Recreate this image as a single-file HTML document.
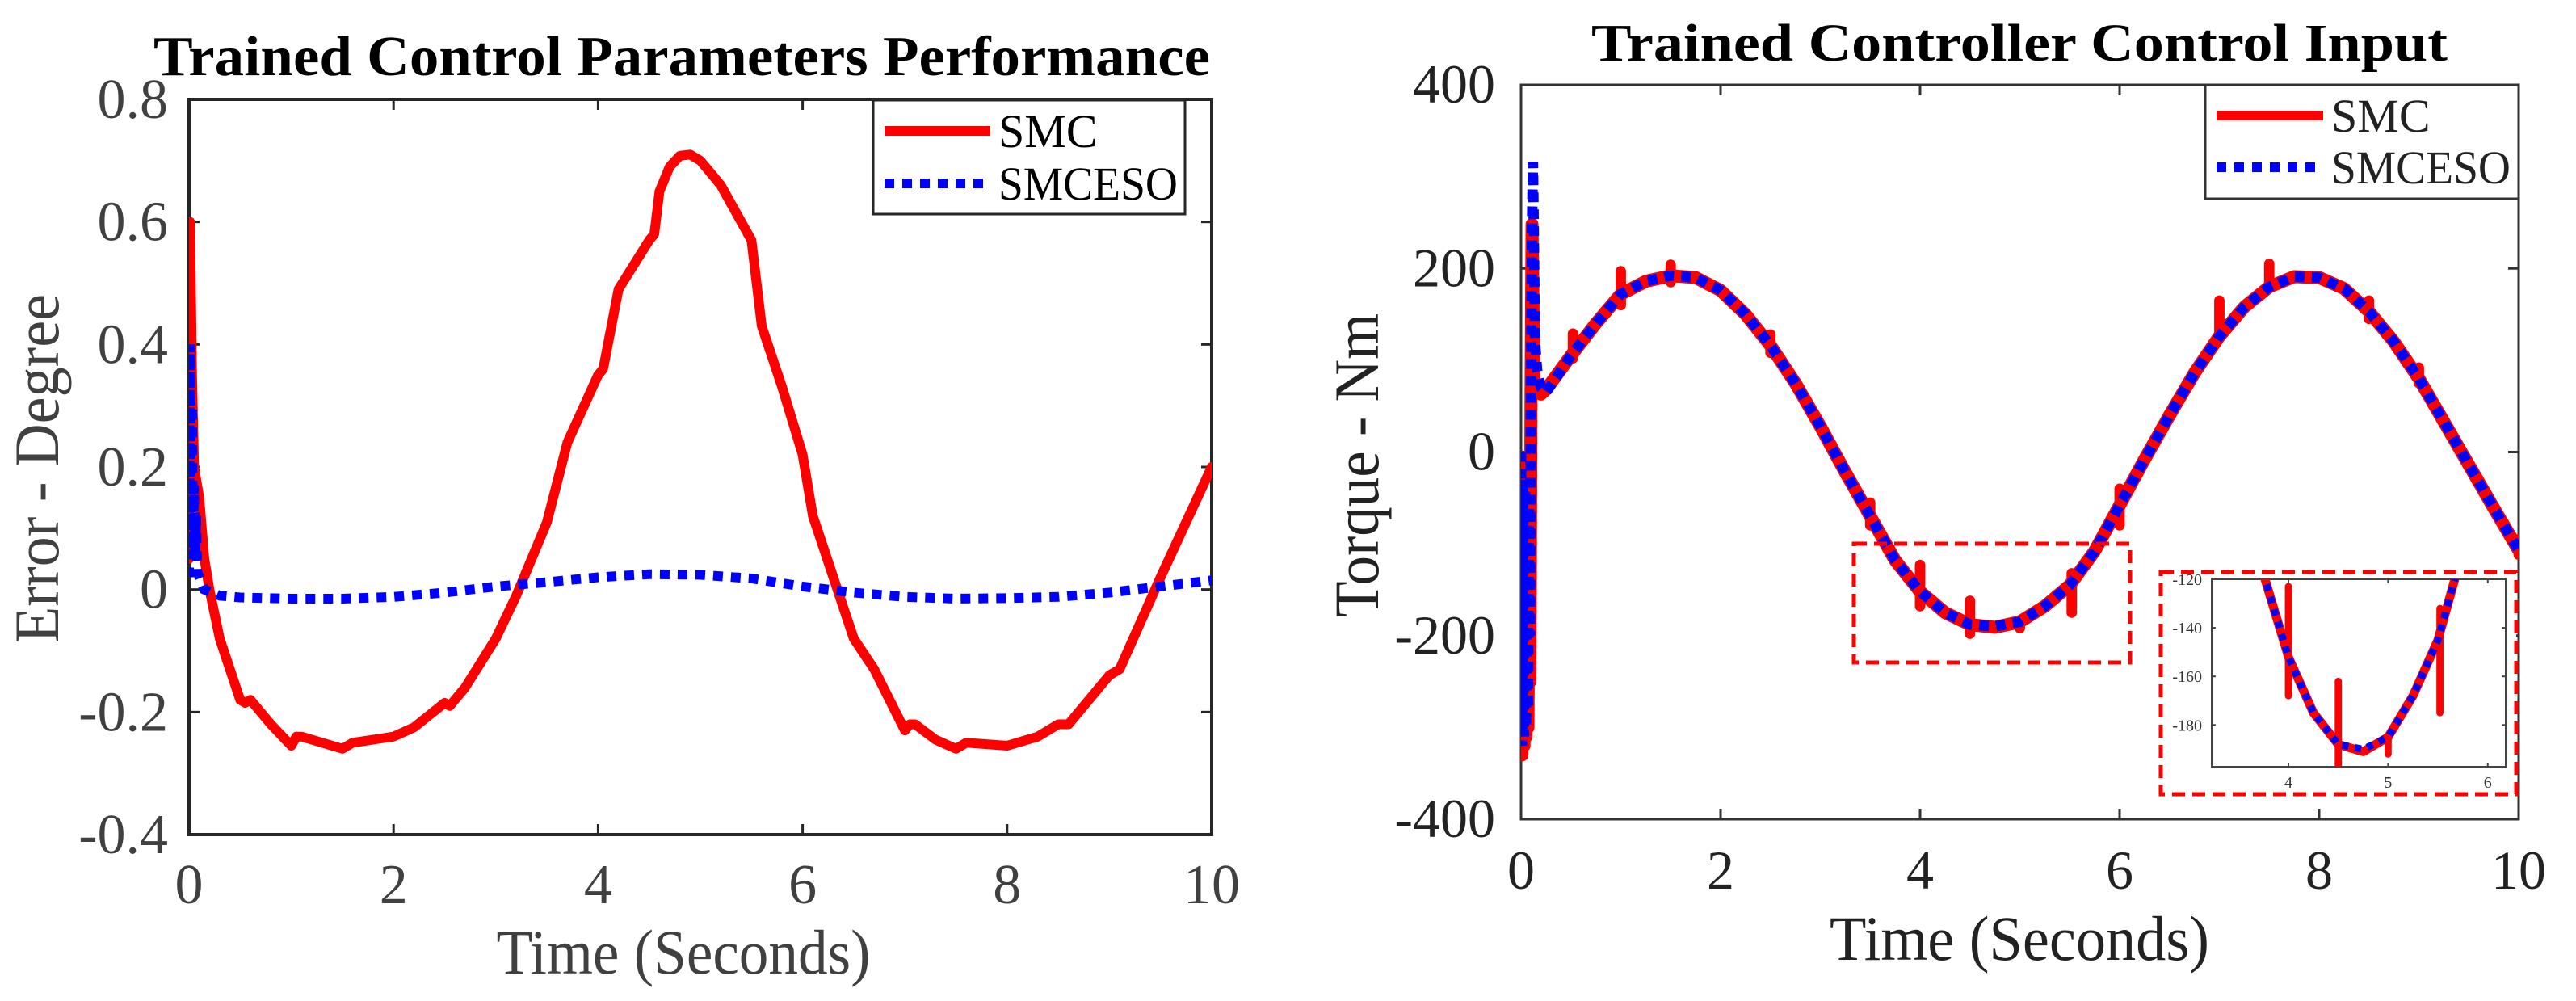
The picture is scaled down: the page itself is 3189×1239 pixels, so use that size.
<!DOCTYPE html>
<html><head><meta charset="utf-8"><style>
html,body{margin:0;padding:0;background:#fff;overflow:hidden;width:3189px;height:1239px;}
svg{display:block;}
text{font-family:"Liberation Serif",serif;}
</style></head><body>
<svg id="fig" width="3189" height="1239" viewBox="0 0 3189 1239" xmlns="http://www.w3.org/2000/svg">
<defs>
<clipPath id="clipL"><rect x="234" y="123" width="1266" height="910"/></clipPath>
<clipPath id="clipR"><rect x="1883" y="105" width="1235" height="909"/></clipPath>
<clipPath id="clipI"><rect x="2738" y="717" width="364" height="232"/></clipPath>
</defs>
<g id="left"></g>
<g id="right"></g>
</svg>
<script>
// ---- Left chart data ----
const smcT = [0,0.01,0.03,0.05,0.1,0.15,0.2,0.3,0.4,0.5,0.55,0.6,0.8,1.0,1.05,1.1,1.3,1.5,1.6,1.8,2.0,2.2,2.5,2.55,2.7,3.0,3.2,3.5,3.7,4.0,4.05,4.2,4.5,4.55,4.6,4.7,4.8,4.9,5.0,5.2,5.5,5.6,5.8,6.0,6.1,6.3,6.5,6.7,7.0,7.05,7.1,7.3,7.5,7.6,8.0,8.3,8.5,8.6,9.0,9.1,9.5,10];
const smcErr = [0.05,0.6,0.35,0.2,0.15,0.05,0,-0.08,-0.13,-0.18,-0.185,-0.18,-0.22,-0.255,-0.24,-0.24,-0.25,-0.26,-0.25,-0.245,-0.24,-0.225,-0.185,-0.19,-0.16,-0.08,-0.01,0.11,0.24,0.35,0.36,0.49,0.57,0.58,0.65,0.69,0.708,0.71,0.70,0.66,0.57,0.43,0.33,0.22,0.12,0.02,-0.08,-0.13,-0.23,-0.22,-0.22,-0.245,-0.26,-0.25,-0.255,-0.24,-0.22,-0.22,-0.14,-0.13,0.02,0.2];
const esoT = [0,0.01,0.02,0.03,0.04,0.05,0.06,0.07,0.08,0.1,0.15,0.3,0.5,1,1.5,2,2.5,3,3.5,4,4.5,5,5.5,6,6.5,7,7.5,8,8.5,9,9.5,10];
const esoErr = [0.02,0.4,0.05,0.3,0.08,0.17,0.05,0.12,0.03,0.02,0,-0.01,-0.013,-0.015,-0.015,-0.012,-0.005,0.005,0.012,0.02,0.025,0.024,0.018,0.005,-0.005,-0.012,-0.015,-0.014,-0.012,-0.005,0.005,0.015];
const leftXTicks = [0,2,4,6,8,10];
const leftYTicks = [0.8,0.6,0.4,0.2,0,-0.2,-0.4];
const leftYLabels = ["0.8","0.6","0.4","0.2","0","-0.2","-0.4"];

// ---- Right chart data ----
const torqueT = [0,0.01,0.02,0.03,0.04,0.05,0.06,0.07,0.08,0.09,0.1,0.11,0.13,0.2,0.25,0.5,0.75,1.0,1.25,1.5,1.75,2.0,2.25,2.5,2.75,3.0,3.25,3.5,3.75,4.0,4.25,4.5,4.75,5.0,5.25,5.5,5.75,6.0,6.25,6.5,6.75,7.0,7.25,7.5,7.75,8.0,8.25,8.5,8.75,9.0,9.25,9.5,9.75,10];
const smcTorque = [0,-330,-20,-320,-30,-310,-40,-300,-60,-250,60,248,70,63,68,105,140,172,186,192,190,176,150,116,75,28,-22,-70,-118,-152,-175,-188,-191,-185,-168,-145,-108,-58,-8,40,86,126,158,180,191,190,178,153,120,80,33,-14,-61,-107];
const esoT2 = [0,0.01,0.02,0.03,0.04,0.05,0.06,0.07,0.08,0.09,0.1,0.11,0.12,0.14,0.16,0.2,0.25,0.5,0.75,1.0,1.25,1.5,1.75,2.0,2.25,2.5,2.75,3.0,3.25,3.5,3.75,4.0,4.25,4.5,4.75,5.0,5.25,5.5,5.75,6.0,6.25,6.5,6.75,7.0,7.25,7.5,7.75,8.0,8.25,8.5,8.75,9.0,9.25,9.5,9.75,10];
const esoTorque = [0,-320,-30,-310,-40,-300,-50,-280,-60,-200,80,250,316,120,90,70,65,105,140,172,186,192,190,176,150,116,75,28,-22,-70,-118,-152,-175,-188,-190,-185,-168,-145,-108,-58,-8,40,86,126,158,180,191,190,178,153,120,80,33,-14,-61,-107];
const spikeT = [0.52,1.0,1.5,2.5,3.5,4.0,4.5,5.0,5.52,6.0,7.0,7.5,8.5,9.0,10.0];
const spikeHi = [129,197,204,128,-55,-123,-162,-186,-132,-40,165,205,165,92,-95];
const spikeLo = [102,160,185,108,-80,-168,-198,-192,-175,-80,125,180,145,75,-112];
const rightXTicks = [0,2,4,6,8,10];
const rightYTicks = [400,200,0,-200,-400];
const insetXTicks = [4,5,6];
const insetYTicks = [-120,-140,-160,-180];

const NS = "http://www.w3.org/2000/svg";
function mk(parent, tag, attrs){const e=document.createElementNS(NS,tag);for(const k in attrs)e.setAttribute(k,attrs[k]);parent.appendChild(e);return e;}
function pathOf(ts, vs, sx, sy){return ts.map((t,i)=>(i?"L":"M")+sx(t).toFixed(1)+","+sy(vs[i]).toFixed(1)).join(" ");}

// ===== LEFT =====
const L = document.getElementById("left");
const lx0=234,lx1=1500,ly0=123,ly1=1033;
const lsx = t => lx0 + (t-0)/(10-0)*(lx1-lx0);
const lsy = v => ly1 - (v-(-0.4))/(0.8-(-0.4))*(ly1-ly0);

let t = mk(L,"text",{x:844,y:93,"text-anchor":"middle","font-size":70,"font-weight":"bold",fill:"#000",textLength:1308,lengthAdjust:"spacingAndGlyphs"});
t.textContent="Trained Control Parameters Performance";



let fr = mk(L,"rect",{x:lx0,y:ly0,width:lx1-lx0,height:ly1-ly0,fill:"#fff",stroke:"#262626","stroke-width":4});



leftXTicks.forEach(v=>{
  const x=lsx(v);
  mk(L,"line",{x1:x,y1:ly1,x2:x,y2:ly1-13,stroke:"#262626","stroke-width":3});
  mk(L,"line",{x1:x,y1:ly0,x2:x,y2:ly0+13,stroke:"#262626","stroke-width":3});
  const e=mk(L,"text",{x:x,y:1118,"text-anchor":"middle","font-size":70,fill:"#404040"});
  e.textContent=String(v);
  
  
});
leftYTicks.forEach((v,i)=>{
  const y=lsy(v);
  mk(L,"line",{x1:lx0,y1:y,x2:lx0+13,y2:y,stroke:"#262626","stroke-width":3});
  mk(L,"line",{x1:lx1,y1:y,x2:lx1-13,y2:y,stroke:"#262626","stroke-width":3});
  const e=mk(L,"text",{x:208,y:y+23,"text-anchor":"end","font-size":70,fill:"#404040"});
  e.textContent=leftYLabels[i];
  
  
});
t = mk(L,"text",{x:846,y:1205,"text-anchor":"middle","font-size":78,fill:"#404040",textLength:463,lengthAdjust:"spacingAndGlyphs"});
t.textContent="Time (Seconds)";


t = mk(L,"text",{x:0,y:0,"text-anchor":"middle","font-size":78,fill:"#404040",transform:"translate(72,580) rotate(-90)",textLength:432,lengthAdjust:"spacingAndGlyphs"});
t.textContent="Error - Degree";



const lg = mk(L,"g",{"clip-path":"url(#clipL)"});
let p = mk(lg,"path",{d:pathOf(smcT,smcErr,lsx,lsy),fill:"none",stroke:"#ff0000","stroke-width":12,"stroke-linejoin":"round","stroke-linecap":"round"});


p = mk(lg,"path",{d:pathOf(esoT,esoErr,lsx,lsy),fill:"none",stroke:"#0000ff","stroke-width":12,"stroke-dasharray":"12 10"});



const lLeg = mk(L,"g",{});


mk(lLeg,"rect",{x:1081,y:124,width:386,height:141,fill:"#fff",stroke:"#262626","stroke-width":3});
mk(lLeg,"line",{x1:1095,y1:162,x2:1226,y2:162,stroke:"#ff0000","stroke-width":12});
mk(lLeg,"line",{x1:1095,y1:227,x2:1226,y2:227,stroke:"#0000ff","stroke-width":12,"stroke-dasharray":"12 10"});
t=mk(lLeg,"text",{x:1236,y:182,"font-size":58,fill:"#000"});t.textContent="SMC";


t=mk(lLeg,"text",{x:1236,y:247,"font-size":58,fill:"#000",textLength:222,lengthAdjust:"spacingAndGlyphs"});t.textContent="SMCESO";



// ===== RIGHT =====
const R = document.getElementById("right");
const rx0=1883,rx1=3118,ry0=105,ry1=1014;
const rsx = v => rx0 + v/10*(rx1-rx0);
const rsy = v => ry1 - (v+400)/800*(ry1-ry0);

t = mk(R,"text",{x:2500,y:75,"text-anchor":"middle","font-size":66,"font-weight":"bold",fill:"#000",textLength:1060,lengthAdjust:"spacingAndGlyphs"});
t.textContent="Trained Controller Control Input";


fr = mk(R,"rect",{x:rx0,y:ry0,width:rx1-rx0,height:ry1-ry0,fill:"#fff",stroke:"#333","stroke-width":3});


rightXTicks.forEach(v=>{
  const x=rsx(v);
  mk(R,"line",{x1:x,y1:ry1,x2:x,y2:ry1-13,stroke:"#333","stroke-width":3});
  mk(R,"line",{x1:x,y1:ry0,x2:x,y2:ry0+13,stroke:"#333","stroke-width":3});
  const e=mk(R,"text",{x:x,y:1100,"text-anchor":"middle","font-size":68,fill:"#222"});
  e.textContent=String(v);
  
  
});
rightYTicks.forEach(v=>{
  const y=rsy(v);
  mk(R,"line",{x1:rx0,y1:y,x2:rx0+13,y2:y,stroke:"#333","stroke-width":3});
  mk(R,"line",{x1:rx1,y1:y,x2:rx1-13,y2:y,stroke:"#333","stroke-width":3});
  const e=mk(R,"text",{x:1851,y:y+22,"text-anchor":"end","font-size":68,fill:"#222"});
  e.textContent=String(v);
  
  
});
t = mk(R,"text",{x:2500,y:1188,"text-anchor":"middle","font-size":78,fill:"#222",textLength:470,lengthAdjust:"spacingAndGlyphs"});
t.textContent="Time (Seconds)";


t = mk(R,"text",{x:0,y:0,"text-anchor":"middle","font-size":78,fill:"#222",transform:"translate(1706,576) rotate(-90)",textLength:376,lengthAdjust:"spacingAndGlyphs"});
t.textContent="Torque - Nm";



function drawSeries(g, sx, sy, w, sc){
  let a = mk(g,"path",{d:pathOf(torqueT,smcTorque,sx,sy),fill:"none",stroke:"#ff0000","stroke-width":w,"stroke-linejoin":"round"});
  
  
  spikeT.forEach((s,i)=>{
    const sp = mk(g,"line",{x1:sx(s),y1:sy(spikeHi[i]),x2:sx(s),y2:sy(spikeLo[i]),stroke:"#ff0000","stroke-width":w*0.8,"stroke-linecap":"round"});
    
    
  });
  a = mk(g,"path",{d:pathOf(esoT2,esoTorque,sx,sy),fill:"none",stroke:"#0000ff","stroke-width":w*0.8,"stroke-dasharray":sc});
  
  
}
const rg = mk(R,"g",{"clip-path":"url(#clipR)"});
drawSeries(rg, rsx, rsy, 16, "12 9");

const rLeg = mk(R,"g",{});


mk(rLeg,"rect",{x:2730,y:105,width:388,height:141,fill:"#fff",stroke:"#333","stroke-width":3});
mk(rLeg,"line",{x1:2744,y1:143,x2:2876,y2:143,stroke:"#ff0000","stroke-width":12});
mk(rLeg,"line",{x1:2744,y1:207,x2:2876,y2:207,stroke:"#0000ff","stroke-width":12,"stroke-dasharray":"12 10"});
t=mk(rLeg,"text",{x:2886,y:163,"font-size":58,fill:"#222"});t.textContent="SMC";


t=mk(rLeg,"text",{x:2886,y:227,"font-size":58,fill:"#222",textLength:222,lengthAdjust:"spacingAndGlyphs"});t.textContent="SMCESO";



// zoom boxes
let zb = mk(R,"rect",{x:2295,y:673,width:342,height:147,fill:"none",stroke:"#ff0000","stroke-width":5,"stroke-dasharray":"16 9"});


zb = mk(R,"rect",{x:2675,y:708,width:440,height:275,fill:"#fff",stroke:"#ff0000","stroke-width":5,"stroke-dasharray":"16 9"});



// inset
const ix0=2738,ix1=3102,iy0=717,iy1=949;
const isx = v => ix0 + (v-3.23)/(6.18-3.23)*(ix1-ix0);
const isy = v => iy0 + (-120 - v)/(77.2)*(iy1-iy0);
const ig = mk(R,"g",{});


mk(ig,"rect",{x:ix0,y:iy0,width:ix1-ix0,height:iy1-iy0,fill:"#fff",stroke:"#444","stroke-width":2});
insetXTicks.forEach(v=>{
  const x=isx(v);
  mk(ig,"line",{x1:x,y1:iy1,x2:x,y2:iy1-5,stroke:"#444","stroke-width":2});
  mk(ig,"line",{x1:x,y1:iy0,x2:x,y2:iy0+5,stroke:"#444","stroke-width":2});
  const e=mk(ig,"text",{x:x,y:975,"text-anchor":"middle","font-size":20,fill:"#333","font-family":"Liberation Sans, sans-serif"});
  e.textContent=String(v);
  
  
});
insetYTicks.forEach(v=>{
  const y=isy(v);
  mk(ig,"line",{x1:ix0,y1:y,x2:ix0+5,y2:y,stroke:"#444","stroke-width":2});
  mk(ig,"line",{x1:ix1,y1:y,x2:ix1-5,y2:y,stroke:"#444","stroke-width":2});
  const e=mk(ig,"text",{x:2726,y:y+7,"text-anchor":"end","font-size":20,fill:"#333","font-family":"Liberation Sans, sans-serif"});
  e.textContent=String(v);
  
  
});
const icg = mk(ig,"g",{"clip-path":"url(#clipI)"});
drawSeries(icg, isx, isy, 11, "8 8");
</script>
</body></html>
